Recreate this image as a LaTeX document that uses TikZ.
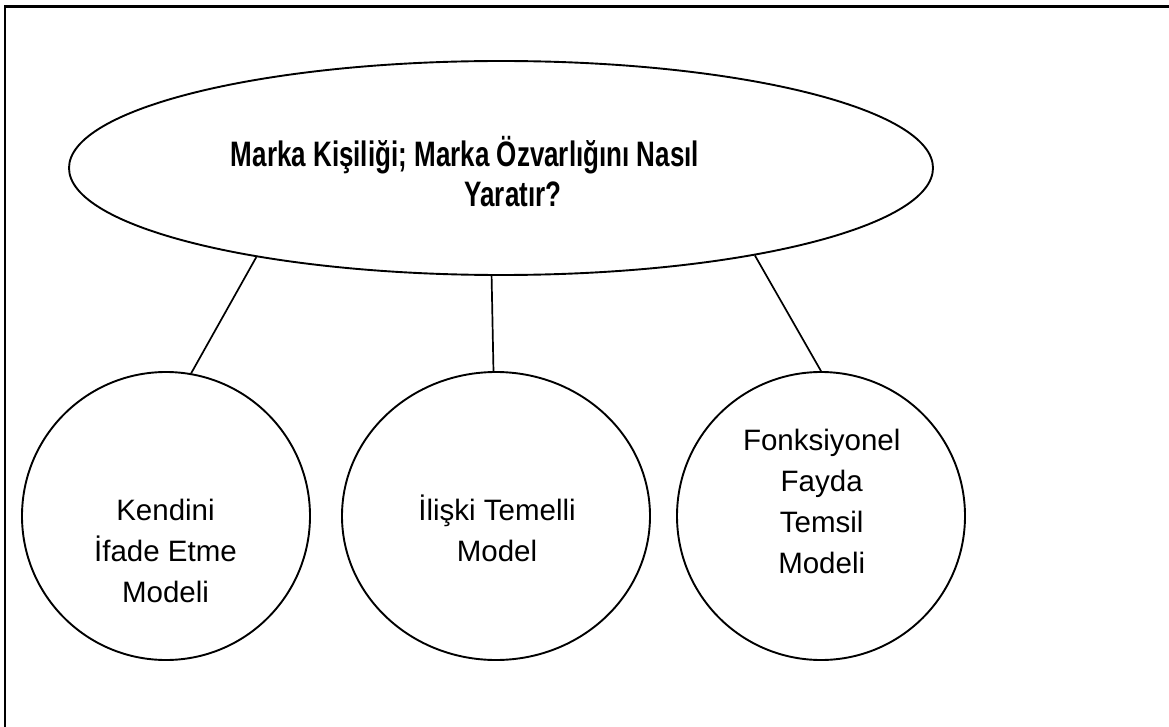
\documentclass[tikz,border=0pt]{standalone}
\usepackage{fontspec}
\setmainfont{Liberation Sans}
\usetikzlibrary{shapes.geometric}
\begin{document}
\begin{tikzpicture}[x=1pt,y=-1pt,
  bubble/.style={draw=black, line width=1.9pt, ellipse, inner sep=0pt},
  link/.style={draw=black, line width=1.7pt},
  heading/.style={font=\bfseries\fontsize{26}{40}\selectfont, inner sep=0pt, anchor=base},
  label text/.style={align=center, font=\fontsize{29.5}{41}\selectfont, inner sep=0pt, anchor=base},
]
\useasboundingbox (0,0) rectangle (1169,727);
% page frame (left and top edges)
\draw[line width=2.6pt] (5,727) -- (5,6.7) -- (1169,6.7);

% central question
\node[bubble, minimum width=864pt, minimum height=214pt] (q) at (501,168) {};
\node[heading] (qa) at (465,166.7) {\scalebox{1}[1.36]{Marka Kişiliği; Marka Özvarlığını Nasıl}};
\node[heading] (qb) at (513,207) {\scalebox{1}[1.36]{Yaratır?}};

% the three models
\node[bubble, minimum width=288pt, minimum height=288pt] (m1) at (166,516) {};
\node[bubble, minimum width=308pt, minimum height=288pt] (m2) at (496,516) {};
\node[bubble, minimum width=288pt, minimum height=288pt] (m3) at (821,516) {};

% multi-line labels sit on the baseline of their last line
\node[label text] (t1) at (165.5,602) {Kendini\\İfade Etme\\Modeli};
\node[label text] (t2) at (497,561) {İlişki Temelli\\Model};
\node[label text] (t3) at (821.7,573) {Fonksiyonel\\Fayda\\Temsil\\Modeli};

% connectors
\draw[link] (q.200.7) -- (m1.80.8);
\draw[link] (q.265.7) -- (m2.91.2);
\draw[link] (q.341.2) -- (m3.90);
\end{tikzpicture}
\end{document}
